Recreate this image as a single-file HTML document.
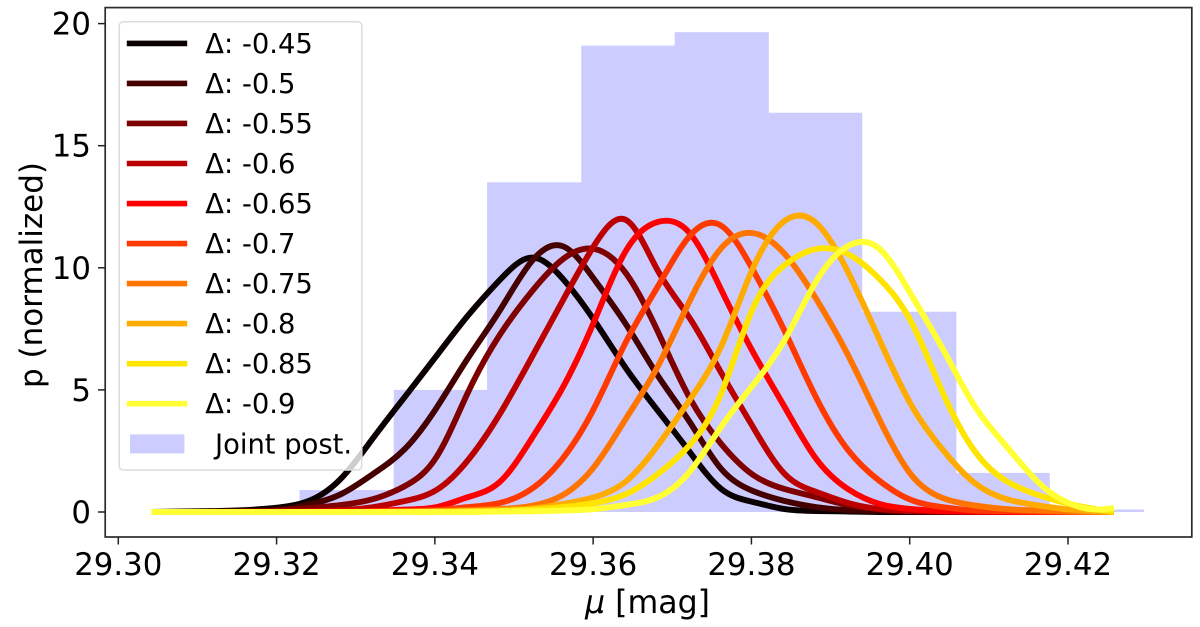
<!DOCTYPE html>
<html lang="en">
<head>
<meta charset="utf-8">
<title>Joint posterior of mu</title>
<style>
html,body{margin:0;padding:0;background:#fff;}
svg{display:block;}
text{font-family:"DejaVu Sans","Liberation Sans",sans-serif;fill:#000;}
</style>
</head>
<body>
<svg id="chart" xmlns="http://www.w3.org/2000/svg" width="1200" height="627" viewBox="0 0 1200 627">
  <rect x="0" y="0" width="1200" height="627" fill="#fff"/>
  <g id="bars"></g>
  <g id="lines"></g>
  <rect x="105.2" y="7.6" width="1086.6" height="529.4" fill="none" stroke="#2b2b2b" stroke-width="1.7"/>
  <g id="xticks"></g>
  <g id="yticks"></g>
  <text x="647.5" y="613" font-size="31.6" text-anchor="middle"><tspan font-style="italic">μ</tspan> [mag]</text>
  <text transform="translate(42,275) rotate(-90)" font-size="31" text-anchor="middle">p (normalized)</text>
  <g id="legend">
    <rect x="119.2" y="21.8" width="242.6" height="448.2" rx="4" ry="4" fill="#fff" fill-opacity="0.8" stroke="#dcdcdc" stroke-width="1.5"/>
  </g>
</svg>
<script>
var muGrid = [29.3042,29.3082,29.3122,29.3162,29.3202,29.3242,29.3282,29.3322,29.3362,29.3402,29.3442,29.3482,29.3522,29.3562,29.3602,29.3642,29.3682,29.3722,29.3762,29.3802,29.3842,29.3882,29.3922,29.3962,29.4002,29.4042,29.4082,29.4122,29.4162,29.4202,29.4242,29.4258];

var seriesA = [0,.02,.04,.08,.18,.47,1.39,3.03,4.71,6.39,8.05,9.5,10.42,9.54,7.82,5.86,4.14,2.46,.94,.41,.12,.04,.02,0,0,0,0,0,0,0,0,0];
var seriesB = [0,0,.02,.04,.08,.31,.74,1.56,2.58,4.26,6.31,8.25,10.25,10.88,9.50,7.66,5.57,3.69,1.76,.86,.45,.20,.08,.04,.02,0,0,0,0,0,0,0];
var seriesC = [0,0,0,.02,.06,.16,.29,.53,1.06,2.25,4.91,7.25,9.01,10.36,10.77,9.75,7.37,4.67,2.78,1.52,.94,.61,.29,.12,.04,.02,0,0,0,0,0,0];
var seriesD = [0,0,0,0,.02,.04,.08,.2,.45,.9,2.13,4.01,6.31,8.68,10.95,11.95,9.87,7.94,5.69,3.48,1.56,.82,.37,.12,.04,.02,0,0,0,0,0,0];
var seriesE = [0,0,0,0,0,0,.02,.04,.1,.2,.61,1.23,2.99,5.12,7.86,10.73,11.88,11.42,9.09,6.55,4.30,2.17,.94,.33,.12,.04,.02,0,0,0,0,0];
var seriesF = [0,0,0,0,0,0,0,.02,.04,.08,.2,.37,.94,2.21,4.30,7.0,9.25,11.3,11.72,9.91,7.41,4.67,2.54,1.27,.49,.2,.06,.04,.02,0,0,0];
var seriesG = [0,0,0,0,0,0,0,0,.02,.04,.08,.12,.25,.70,1.88,3.85,5.98,8.64,10.81,11.42,10.57,8.72,6.43,3.77,1.52,.57,.27,.12,.06,.02,0,0];
var seriesH = [0,0,0,0,0,0,0,0,0,.02,.04,.08,.14,.33,.61,1.27,2.74,4.59,6.80,9.99,11.92,11.83,9.83,7.04,4.38,2.54,1.19,.53,.27,.10,.02,0];
var seriesI = [0,0,0,0,0,0,0,0,0,0,.02,.04,.10,.2,.37,.74,1.56,2.74,4.87,8.35,10.11,10.77,10.56,9.54,7.78,4.87,2.50,1.27,.70,.33,.08,0];
var seriesJ = [0,0,0,0,0,0,0,0,0,0,0,.02,.03,.06,.12,.29,.61,1.65,3.5,5.20,7.04,9.46,10.89,10.77,8.89,6.67,4.34,2.70,1.23,.35,.1,.16];

var seriesLabels = ["Δ: -0.45","Δ: -0.5","Δ: -0.55","Δ: -0.6","Δ: -0.65","Δ: -0.7","Δ: -0.75","Δ: -0.8","Δ: -0.85","Δ: -0.9"];
var histEdges = [29.3229,29.3348,29.3466,29.3585,29.3703,29.3822,29.3940,29.4059,29.4177,29.4296];
var histHeights = [0.9,5,13.5,19.1,19.65,16.35,8.2,1.6,0.1];
var xTickValues = [29.30,29.32,29.34,29.36,29.38,29.40,29.42];
var yTickValues = [0,5,10,15,20];

var allSeries = [seriesA,seriesB,seriesC,seriesD,seriesE,seriesF,seriesG,seriesH,seriesI,seriesJ];
var seriesColors = ["#0b0000","#450000","#7f0000","#bb0000","#fd0000","#ff3a00","#ff7500","#ffab00","#ffe400","#ffff33"];

var NS = "http://www.w3.org/2000/svg";
function xScale(mu){ return 118.3 + (mu - 29.30) * 7914; }
function yScale(v){ return 512 - v * 24.42; }
function make(tag, parent, props){
  var el = document.createElementNS(NS, tag);
  for (var k in props) el.setAttribute(k, props[k]);
  parent.appendChild(el);
  return el;
}
function curvePath(xs, ys){
  var px = xs.map(xScale), py = ys.map(yScale), n = px.length, i;
  var h = [], c = [0], d2 = [0], M = new Array(n).fill(0);
  for (i = 0; i < n-1; i++) h.push(px[i+1]-px[i]);
  for (i = 1; i < n-1; i++){
    var m = 2*(h[i-1]+h[i]) - h[i-1]*c[i-1];
    c.push(h[i]/m);
    var r = 6*((py[i+1]-py[i])/h[i] - (py[i]-py[i-1])/h[i-1]);
    d2.push((r - h[i-1]*d2[i-1])/m);
  }
  for (i = n-2; i > 0; i--) M[i] = d2[i] - c[i]*M[i+1];
  var s = [];
  for (i = 0; i < n-1; i++) s.push((py[i+1]-py[i])/h[i] - h[i]*(2*M[i]+M[i+1])/6);
  s.push((py[n-1]-py[n-2])/h[n-2] + h[n-2]*(M[n-2]+2*M[n-1])/6);
  var path = "M" + px[0].toFixed(2) + " " + py[0].toFixed(2);
  for (i = 0; i < n-1; i++){
    var t = h[i]/3;
    path += "C" + (px[i]+t).toFixed(2) + " " + (py[i]+s[i]*t).toFixed(2) + " " +
            (px[i+1]-t).toFixed(2) + " " + (py[i+1]-s[i+1]*t).toFixed(2) + " " +
            px[i+1].toFixed(2) + " " + py[i+1].toFixed(2);
  }
  return path;
}

var barsG = document.getElementById("bars");
histHeights.forEach(function(h,i){
  var x0 = xScale(histEdges[i]), x1 = xScale(histEdges[i+1]);
  var bar = make("rect", barsG, {x:x0, y:yScale(h), width:x1-x0, height:yScale(0)-yScale(h), fill:"#0000ff", "fill-opacity":0.2});
  
  
});

var linesG = document.getElementById("lines");
allSeries.forEach(function(vals,i){
  var line = make("path", linesG, {d:curvePath(muGrid, vals), fill:"none", stroke:seriesColors[i], "stroke-width":5.9, "stroke-linejoin":"round", "stroke-linecap":"butt"});
  
  
});

var xG = document.getElementById("xticks");
xTickValues.forEach(function(t){
  var x = xScale(t);
  var tick = make("line", xG, {x1:x, x2:x, y1:537, y2:544.5, stroke:"#222", "stroke-width":1.5});
  
  
  var label = make("text", xG, {x:x, y:575, "font-size":30.8, "text-anchor":"middle"});
  label.textContent = t.toFixed(2);
  
  
});

var yG = document.getElementById("yticks");
yTickValues.forEach(function(t){
  var y = yScale(t);
  var tick = make("line", yG, {x1:98, x2:105, y1:y, y2:y, stroke:"#222", "stroke-width":1.5});
  
  
  var label = make("text", yG, {x:91, y:y+11, "font-size":30.8, "text-anchor":"end"});
  label.textContent = String(t);
  
  
});

var legendG = document.getElementById("legend");
seriesLabels.forEach(function(s,i){
  var y = 43.4 + i * 40.03;
  var swatch = make("line", legendG, {x1:126.8, x2:187.2, y1:y, y2:y, stroke:seriesColors[i], "stroke-width":5.6});
  
  
  var label = make("text", legendG, {x:205.3, y:y+9.4, "font-size":27.4});
  label.textContent = s;
  
  
});
var patch = make("rect", legendG, {x:130, y:434.4, width:54.4, height:19, fill:"#0000ff", "fill-opacity":0.2});


var patchLabel = make("text", legendG, {x:215, y:453.4, "font-size":27.4});
patchLabel.textContent = "Joint post.";


</script>
</body>
</html>
